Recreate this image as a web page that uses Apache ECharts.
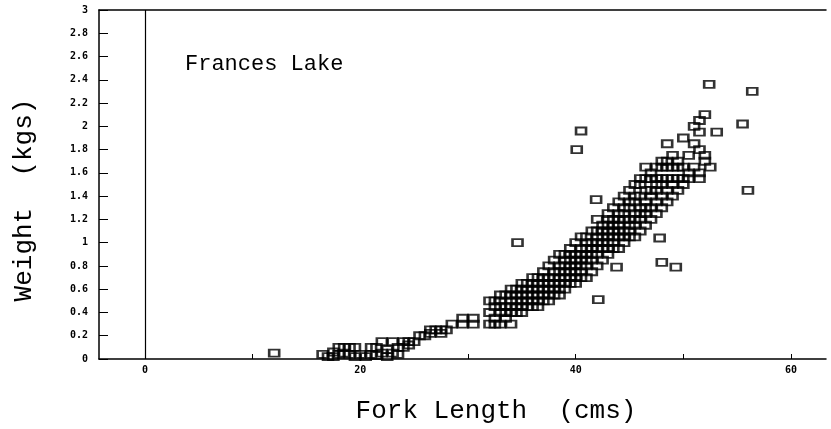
<!DOCTYPE html>
<html>
<head>
<meta charset="utf-8">
<script src="https://cdn.jsdelivr.net/npm/echarts@6/dist/echarts.min.js"></script>
<style>html,body{margin:0;padding:0;background:#fff;}#c{width:831px;height:429px;}</style>
</head>
<body>
<div id="c"></div>
<script>
// Fork length (cm), weight (kg) pairs
var smallFish = [
  [12, 0.05], [16.5, 0.04], [17, 0.02], [17.5, 0.06], [17.5, 0.02], [18, 0.1], [18, 0.04],
  [18.5, 0.1], [18.5, 0.05], [19, 0.1], [19, 0.04], [19.5, 0.1], [19.5, 0.02], [20, 0.04],
  [20.5, 0.02], [21, 0.1], [21, 0.04], [21.5, 0.1], [21.5, 0.03], [22, 0.15], [22, 0.05],
  [22.5, 0.08], [22.5, 0.02], [23, 0.15], [23, 0.05], [23.5, 0.1], [23.5, 0.04], [24, 0.15],
  [24, 0.1], [24.5, 0.15], [24.5, 0.12], [25, 0.15], [25.5, 0.2], [26, 0.2], [26.5, 0.25],
  [27, 0.25], [27.5, 0.25], [28, 0.25], [28.5, 0.3], [29.5, 0.35], [30.5, 0.35], [29.5, 0.3],
  [30.5, 0.3], [26.5, 0.22], [27.5, 0.22]
];
var mainFish = [
  [32, 0.3], [32, 0.4], [32, 0.5],
  [32.5, 0.3], [32.5, 0.35], [32.5, 0.45], [32.5, 0.5],
  [33, 0.3], [33, 0.4], [33, 0.45], [33, 0.5], [33, 0.55],
  [33.5, 0.35], [33.5, 0.4], [33.5, 0.45], [33.5, 0.55],
  [34, 0.3], [34, 0.4], [34, 0.45], [34, 0.5], [34, 0.55], [34, 0.6],
  [34.5, 0.4], [34.5, 0.45], [34.5, 0.5], [34.5, 0.55], [34.5, 0.6],
  [35, 0.4], [35, 0.45], [35, 0.5], [35, 0.55], [35, 0.6], [35, 0.65],
  [35.5, 0.45], [35.5, 0.5], [35.5, 0.55], [35.5, 0.6], [35.5, 0.65],
  [36, 0.45], [36, 0.5], [36, 0.55], [36, 0.6], [36, 0.65], [36, 0.7],
  [36.5, 0.45], [36.5, 0.5], [36.5, 0.55], [36.5, 0.6], [36.5, 0.65], [36.5, 0.7],
  [37, 0.5], [37, 0.55], [37, 0.6], [37, 0.65], [37, 0.7], [37, 0.75],
  [37.5, 0.5], [37.5, 0.55], [37.5, 0.6], [37.5, 0.65], [37.5, 0.7], [37.5, 0.8],
  [38, 0.55], [38, 0.6], [38, 0.65], [38, 0.7], [38, 0.75], [38, 0.85],
  [38.5, 0.55], [38.5, 0.6], [38.5, 0.65], [38.5, 0.7], [38.5, 0.75], [38.5, 0.8], [38.5, 0.9],
  [39, 0.6], [39, 0.65], [39, 0.7], [39, 0.75], [39, 0.8], [39, 0.85], [39, 0.9],
  [39.5, 0.65], [39.5, 0.7], [39.5, 0.75], [39.5, 0.8], [39.5, 0.85], [39.5, 0.9], [39.5, 0.95],
  [40, 0.65], [40, 0.7], [40, 0.75], [40, 0.8], [40, 0.85], [40, 0.9], [40, 1.0],
  [40.5, 0.7], [40.5, 0.75], [40.5, 0.8], [40.5, 0.85], [40.5, 0.9], [40.5, 0.95], [40.5, 1.05],
  [41, 0.7], [41, 0.8], [41, 0.85], [41, 0.9], [41, 0.95], [41, 1.0], [41, 1.05],
  [41.5, 0.75], [41.5, 0.85], [41.5, 0.9], [41.5, 0.95], [41.5, 1.0], [41.5, 1.1],
  [42, 0.8], [42, 0.9], [42, 0.95], [42, 1.0], [42, 1.05], [42, 1.1], [42, 1.2],
  [42.5, 0.85], [42.5, 0.95], [42.5, 1.0], [42.5, 1.05], [42.5, 1.1], [42.5, 1.15],
  [43, 0.9], [43, 0.95], [43, 1.0], [43, 1.05], [43, 1.1], [43, 1.15], [43, 1.2], [43, 1.25],
  [43.5, 0.95], [43.5, 1.0], [43.5, 1.05], [43.5, 1.1], [43.5, 1.15], [43.5, 1.2], [43.5, 1.3],
  [44, 0.95], [44, 1.05], [44, 1.1], [44, 1.15], [44, 1.2], [44, 1.25], [44, 1.35],
  [44.5, 1.0], [44.5, 1.05], [44.5, 1.1], [44.5, 1.2], [44.5, 1.25], [44.5, 1.3], [44.5, 1.4],
  [45, 1.05], [45, 1.1], [45, 1.15], [45, 1.2], [45, 1.3], [45, 1.35], [45, 1.45],
  [45.5, 1.05], [45.5, 1.15], [45.5, 1.2], [45.5, 1.25], [45.5, 1.35], [45.5, 1.4], [45.5, 1.5],
  [46, 1.1], [46, 1.2], [46, 1.25], [46, 1.3], [46, 1.4], [46, 1.5], [46, 1.55],
  [46.5, 1.15], [46.5, 1.25], [46.5, 1.3], [46.5, 1.35], [46.5, 1.45], [46.5, 1.55], [46.5, 1.65],
  [47, 1.2], [47, 1.3], [47, 1.4], [47, 1.45], [47, 1.55], [47, 1.6],
  [47.5, 1.25], [47.5, 1.35], [47.5, 1.45], [47.5, 1.5], [47.5, 1.55], [47.5, 1.65],
  [48, 1.3], [48, 1.4], [48, 1.5], [48, 1.55], [48, 1.65], [48, 1.7],
  [48.5, 1.35], [48.5, 1.45], [48.5, 1.55], [48.5, 1.65], [48.5, 1.7], [48.5, 1.85],
  [49, 1.4], [49, 1.5], [49, 1.55], [49, 1.65], [49, 1.75],
  [49.5, 1.45], [49.5, 1.55], [49.5, 1.65], [49.5, 1.7],
  [50, 1.5], [50, 1.55], [50, 1.65], [50, 1.9],
  [50.5, 1.55], [50.5, 1.6], [50.5, 1.75],
  [51, 1.65], [51, 1.85], [51, 2.0],
  [51.5, 1.55], [51.5, 1.6], [51.5, 1.8], [51.5, 1.95], [51.5, 2.05],
  [52, 1.7], [52, 1.75], [52, 2.1],
  [52.5, 1.65]
];
var outlierFish = [
  [34.6, 1.0], [40.1, 1.8], [40.5, 1.96], [42.1, 0.51], [41.9, 1.37], [47.8, 1.04],
  [48.0, 0.83], [49.3, 0.79], [43.8, 0.79], [52.4, 2.36], [56.4, 2.30], [55.5, 2.02],
  [56.0, 1.45], [53.1, 1.95]
];
var xTickValues = [0, 10, 20, 30, 40, 50, 60];
var xLabelValues = [0, 20, 40, 60];

var allFish = smallFish.concat(mainFish, outlierFish);

var chart = echarts.init(document.getElementById('c'), null, {renderer: 'canvas'});
var tickFont = {color: '#000', fontFamily: 'DejaVu Sans Mono', fontWeight: 'bold', fontSize: 10};
chart.setOption({
  animation: false,
  backgroundColor: '#fff',
  grid: {left: 99, right: 5, top: 10, bottom: 70, containLabel: false},
  xAxis: [{
    type: 'value', min: -4.27, max: 63.25, position: 'bottom',
    axisLine: {show: true, lineStyle: {color: '#000', width: 1.5}},
    axisTick: {show: true, inside: true, length: 5, customValues: xTickValues, lineStyle: {color: '#000', width: 1}},
    axisLabel: Object.assign({margin: 6, customValues: xLabelValues}, tickFont),
    splitLine: {show: false}
  }, {
    type: 'value', min: -4.27, max: 63.25, position: 'top',
    axisLine: {show: true, onZero: false, lineStyle: {color: '#000', width: 1.5}},
    axisTick: {show: false}, axisLabel: {show: false}, splitLine: {show: false}
  }],
  yAxis: {
    type: 'value', min: 0, max: 3, interval: 0.2,
    axisLine: {show: true, onZero: false, lineStyle: {color: '#000', width: 1.5}},
    axisTick: {show: true, inside: true, length: 9, lineStyle: {color: '#000', width: 1}},
    axisLabel: Object.assign({margin: 11}, tickFont),
    splitLine: {show: false}
  },
  series: [{
    type: 'scatter',
    data: allFish,
    symbol: 'rect',
    symbolSize: [10, 7],
    itemStyle: {color: 'rgba(255,255,255,0)', borderColor: '#000', borderWidth: 2.2},
    markLine: {
      silent: true, symbol: 'none', label: {show: false},
      lineStyle: {color: '#000', width: 1.2, type: 'solid'},
      data: [{xAxis: 0}]
    }
  }],
  graphic: [
    {type: 'text', left: 185, top: 53, style: {text: 'Frances Lake', font: '22px "Liberation Mono"', fill: '#000'}},
    {type: 'text', x: 496, y: 411, style: {text: 'Fork Length  (cms)', font: '26px "Liberation Mono"', fill: '#000', align: 'center', verticalAlign: 'middle'}},
    {type: 'text', x: 24, y: 200, rotation: Math.PI / 2, style: {text: 'Weight  (kgs)', font: '26px "Liberation Mono"', fill: '#000', align: 'center', verticalAlign: 'middle'}}
  ]
});
</script>
</body>
</html>
